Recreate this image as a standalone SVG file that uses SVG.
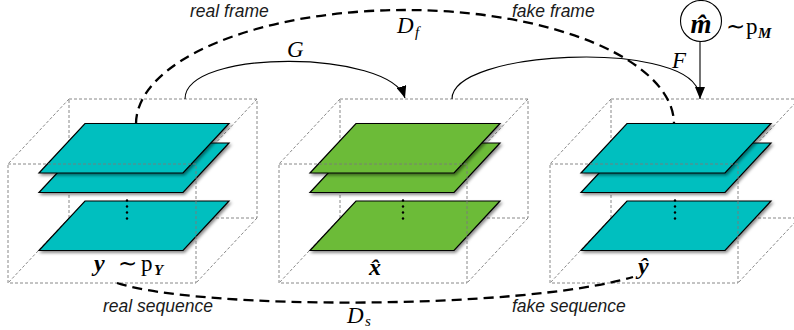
<svg xmlns="http://www.w3.org/2000/svg" xmlns:xlink="http://www.w3.org/1999/xlink" width="794" height="330" viewBox="0 0 794 330">
<style>
.bx{fill:none;stroke:#7a7a7a;stroke-width:0.9;stroke-dasharray:3 2}
.cy{fill:#00bfbf;stroke:#000;stroke-width:1.2;stroke-linejoin:miter}
.gr{fill:#6cbb38;stroke:#000;stroke-width:1.2;stroke-linejoin:miter}
.dot{fill:#000}
.lbl{font-family:"Liberation Sans",Arial,sans-serif;font-style:italic;font-size:17.5px;fill:#1a1a1a}
.mth{font-family:"Liberation Serif","Times New Roman",serif;font-style:italic;font-size:23px;fill:#000}
.sub{font-family:"Liberation Serif","Times New Roman",serif;font-style:italic;font-size:15px;fill:#000}
.bv{font-family:"Liberation Serif","Times New Roman",serif;font-style:italic;font-weight:bold;font-size:24px;fill:#000}
.bsub{font-family:"Liberation Serif","Times New Roman",serif;font-style:italic;font-weight:bold;font-size:15px;fill:#000}
.rm{font-family:"Liberation Serif","Times New Roman",serif;font-size:23px;fill:#000}
.dash{fill:none;stroke:#000;stroke-width:2.3;stroke-dasharray:10 6}
.arc{fill:none;stroke:#000;stroke-width:1.1}
</style>
<defs>
<filter id="sh" x="-10%" y="-10%" width="130%" height="140%">
<feDropShadow dx="1.5" dy="2" stdDeviation="1.4" flood-color="#000" flood-opacity="0.45"/>
</filter>
<marker id="ah" viewBox="0 0 12 10" refX="12" refY="5" markerWidth="12" markerHeight="10" markerUnits="userSpaceOnUse" orient="auto">
<path d="M0,0 L12,5 L0,10 Z" fill="#000"/>
</marker>
<path id="pl" d="M77,0 L221,0 L175,49.5 L31,49.5 Z"/>
<g id="boxback">
<rect class="bx" x="61" y="99" width="188" height="119"/>
<path class="bx" d="M61,99 L0,164 M249,99 L188,164 M249,218 L188,283 M61,218 L0,283"/>
</g>
<rect id="boxfront" class="bx" x="0" y="164" width="188" height="119"/>
</defs>

<g id="node-y">
<use xlink:href="#boxback" transform="translate(8,0)"/>
<use xlink:href="#pl" class="cy" filter="url(#sh)" transform="translate(8,201)"/>
<circle class="dot" cx="127" cy="200.5" r="1.2"/><circle class="dot" cx="127" cy="206.5" r="1.2"/><circle class="dot" cx="127" cy="212.5" r="1.2"/><circle class="dot" cx="127" cy="218.5" r="1.2"/>
<use xlink:href="#pl" class="cy" filter="url(#sh)" transform="translate(8,143)"/>
<use xlink:href="#pl" class="cy" filter="url(#sh)" transform="translate(8,123.5)"/>
<use xlink:href="#boxfront" transform="translate(8,0)"/>
<text class="bv" x="94" y="271">y</text>
<text class="rm" x="118" y="271">∼</text>
<text class="rm" x="141" y="271">p</text>
<text class="bsub" x="154" y="275">Y</text>
</g>

<g id="node-x">
<use xlink:href="#boxback" transform="translate(279,0)"/>
<use xlink:href="#pl" class="gr" filter="url(#sh)" transform="translate(279,201)"/>
<circle class="dot" cx="403" cy="200.5" r="1.2"/><circle class="dot" cx="403" cy="206.5" r="1.2"/><circle class="dot" cx="403" cy="212.5" r="1.2"/><circle class="dot" cx="403" cy="218.5" r="1.2"/>
<use xlink:href="#pl" class="gr" filter="url(#sh)" transform="translate(279,143)"/>
<use xlink:href="#pl" class="gr" filter="url(#sh)" transform="translate(279,123.5)"/>
<use xlink:href="#boxfront" transform="translate(279,0)"/>
<text class="bv" x="369" y="275">x̂</text>
</g>

<g id="node-yhat">
<use xlink:href="#boxback" transform="translate(550,0)"/>
<use xlink:href="#pl" class="cy" filter="url(#sh)" transform="translate(550,201)"/>
<circle class="dot" cx="675" cy="200.5" r="1.2"/><circle class="dot" cx="675" cy="206.5" r="1.2"/><circle class="dot" cx="675" cy="212.5" r="1.2"/><circle class="dot" cx="675" cy="218.5" r="1.2"/>
<use xlink:href="#pl" class="cy" filter="url(#sh)" transform="translate(550,143)"/>
<use xlink:href="#pl" class="cy" filter="url(#sh)" transform="translate(550,123.5)"/>
<use xlink:href="#boxfront" transform="translate(550,0)"/>
<text class="bv" x="638" y="274">ŷ</text>
</g>

<g id="node-m">
<circle cx="701" cy="21" r="20.5" fill="#fff" stroke="#000" stroke-width="1.1"/>
<text class="bv" x="701" y="33" text-anchor="middle" style="font-size:27px">m̂</text>
<text class="rm" x="726" y="34">∼</text>
<text class="rm" x="746" y="34">p</text>
<text class="bsub" x="758" y="38">M</text>
</g>

<g id="connectors">
<path class="dash" d="M136,124 A269,114 0 0 1 674,124"/>
<path class="dash" d="M117,283 C200,310 520,310 633,277"/>
<path class="arc" d="M185,99 C185,48 390,50 405,98" marker-end="url(#ah)"/>
<path class="arc" d="M452,99 C452,50 680,40 698,90"/>
<path class="arc" d="M700,41.5 L700,99" marker-end="url(#ah)"/>
</g>

<g id="labels">
<text class="lbl" x="190" y="17">real frame</text>
<text class="lbl" x="512" y="17">fake frame</text>
<text class="lbl" x="103" y="312">real sequence</text>
<text class="lbl" x="512" y="312">fake sequence</text>
<text class="mth" x="397" y="33">D</text><text class="sub" x="415" y="37">f</text>
<text class="mth" x="347" y="323">D</text><text class="sub" x="365" y="326">s</text>
<text class="mth" x="287" y="57">G</text>
<text class="mth" x="672" y="68">F</text>
</g>
</svg>
